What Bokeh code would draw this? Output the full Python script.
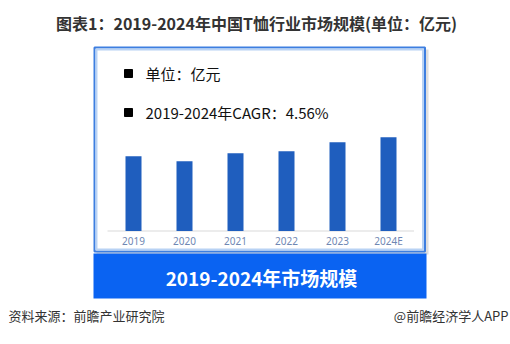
from bokeh.plotting import figure
from bokeh.models import Range1d, FactorRange, CategoricalScale, LinearScale, CoordinateMapping
from bokeh.core.properties import value
from bokeh.embed import file_html
from bokeh.resources import INLINE

# ---- data ----
years = ["2019", "2020", "2021", "2022", "2023", "2024E"]
market_size = [74.8, 69.8, 77.8, 79.8, 88.8, 93.7]   # 亿元 (relative)
cagr_text = "2019-2024年CAGR：4.56%"
unit_text = "单位：亿元"
title_text = "图表1：2019-2024年中国T恤行业市场规模(单位：亿元)"
banner_text = "2019-2024年市场规模"
source_text = "资料来源：前瞻产业研究院"
brand_text = "@前瞻经济学人APP"

CJK = "Noto Sans CJK SC"
W, H = 510, 344

p = figure(width=W, height=H, x_range=Range1d(0, W), y_range=Range1d(H, 0),
           output_backend="svg", toolbar_location=None, min_border=0)
p.axis.visible = False
p.grid.visible = False
p.outline_line_color = None
p.background_fill_color = "white"
p.border_fill_color = "white"

# title
p.text(x=[W / 2 + 1], y=[22], text=[title_text], text_font=value(CJK),
       text_font_style="bold", text_font_size="16px", text_color="#333333",
       text_align="center", text_baseline="middle")

# framed chart box (shadow, border, inner glow)
p.quad(left=[96], right=[428], top=[49], bottom=[254], fill_color="#c8c8c8",
       fill_alpha=0.6, line_color=None)
p.quad(left=[94], right=[424.5], top=[47], bottom=[251], fill_color="white",
       line_color="#3d7ee0", line_width=2)
p.quad(left=[96], right=[422.5], top=[49], bottom=[249], fill_color=None,
       line_color="#b8d2f4", line_width=2)

# notes inside box
p.scatter(x=[128, 128], y=[73, 112], marker="square", size=8, color="black")
p.text(x=[145, 145], y=[73, 112], text=[unit_text, cagr_text], text_font=value(CJK),
       text_font_size="15px", text_color="#111111", text_baseline="middle")

# axis line of the bar chart
p.segment(x0=[107], x1=[413.5], y0=[230.5], y1=[230.5], line_color="#d9d9d9", line_width=1)

# bar chart in a sub-coordinate system (categorical x, value y)
cm = CoordinateMapping(x_source=FactorRange(factors=years), x_scale=CategoricalScale(),
                       y_source=Range1d(0, 100), y_scale=LinearScale(),
                       x_target=Range1d(107.5, 413.5), y_target=Range1d(230.5, 130.5))
bars = p.vbar(x=years, top=market_size, width=16 / 51, fill_color="#1f5ebe", line_color=None)
labels = p.text(x=years, y=[-10.3] * len(years), text=years, text_font=value("Noto Sans"),
                text_font_size="10px", text_color="#6f87b3", text_align="center",
                text_baseline="middle")
bars.coordinates = cm
labels.coordinates = cm

# banner
p.quad(left=[93], right=[426], top=[253], bottom=[298], fill_color="#0a63f2", line_color=None)
p.text(x=[261], y=[277], text=[banner_text], text_font=value(CJK), text_font_style="bold",
       text_font_size="19px", text_color="white", text_align="center", text_baseline="middle")

# footer
p.text(x=[8], y=[315], text=[source_text], text_font=value(CJK), text_font_size="13px",
       text_color="#333333", text_baseline="middle")
p.text(x=[508], y=[315], text=[brand_text], text_font=value(CJK), text_font_size="13px",
       text_color="#333333", text_align="right", text_baseline="middle")

open("out.html", "w").write(file_html(p, INLINE))
